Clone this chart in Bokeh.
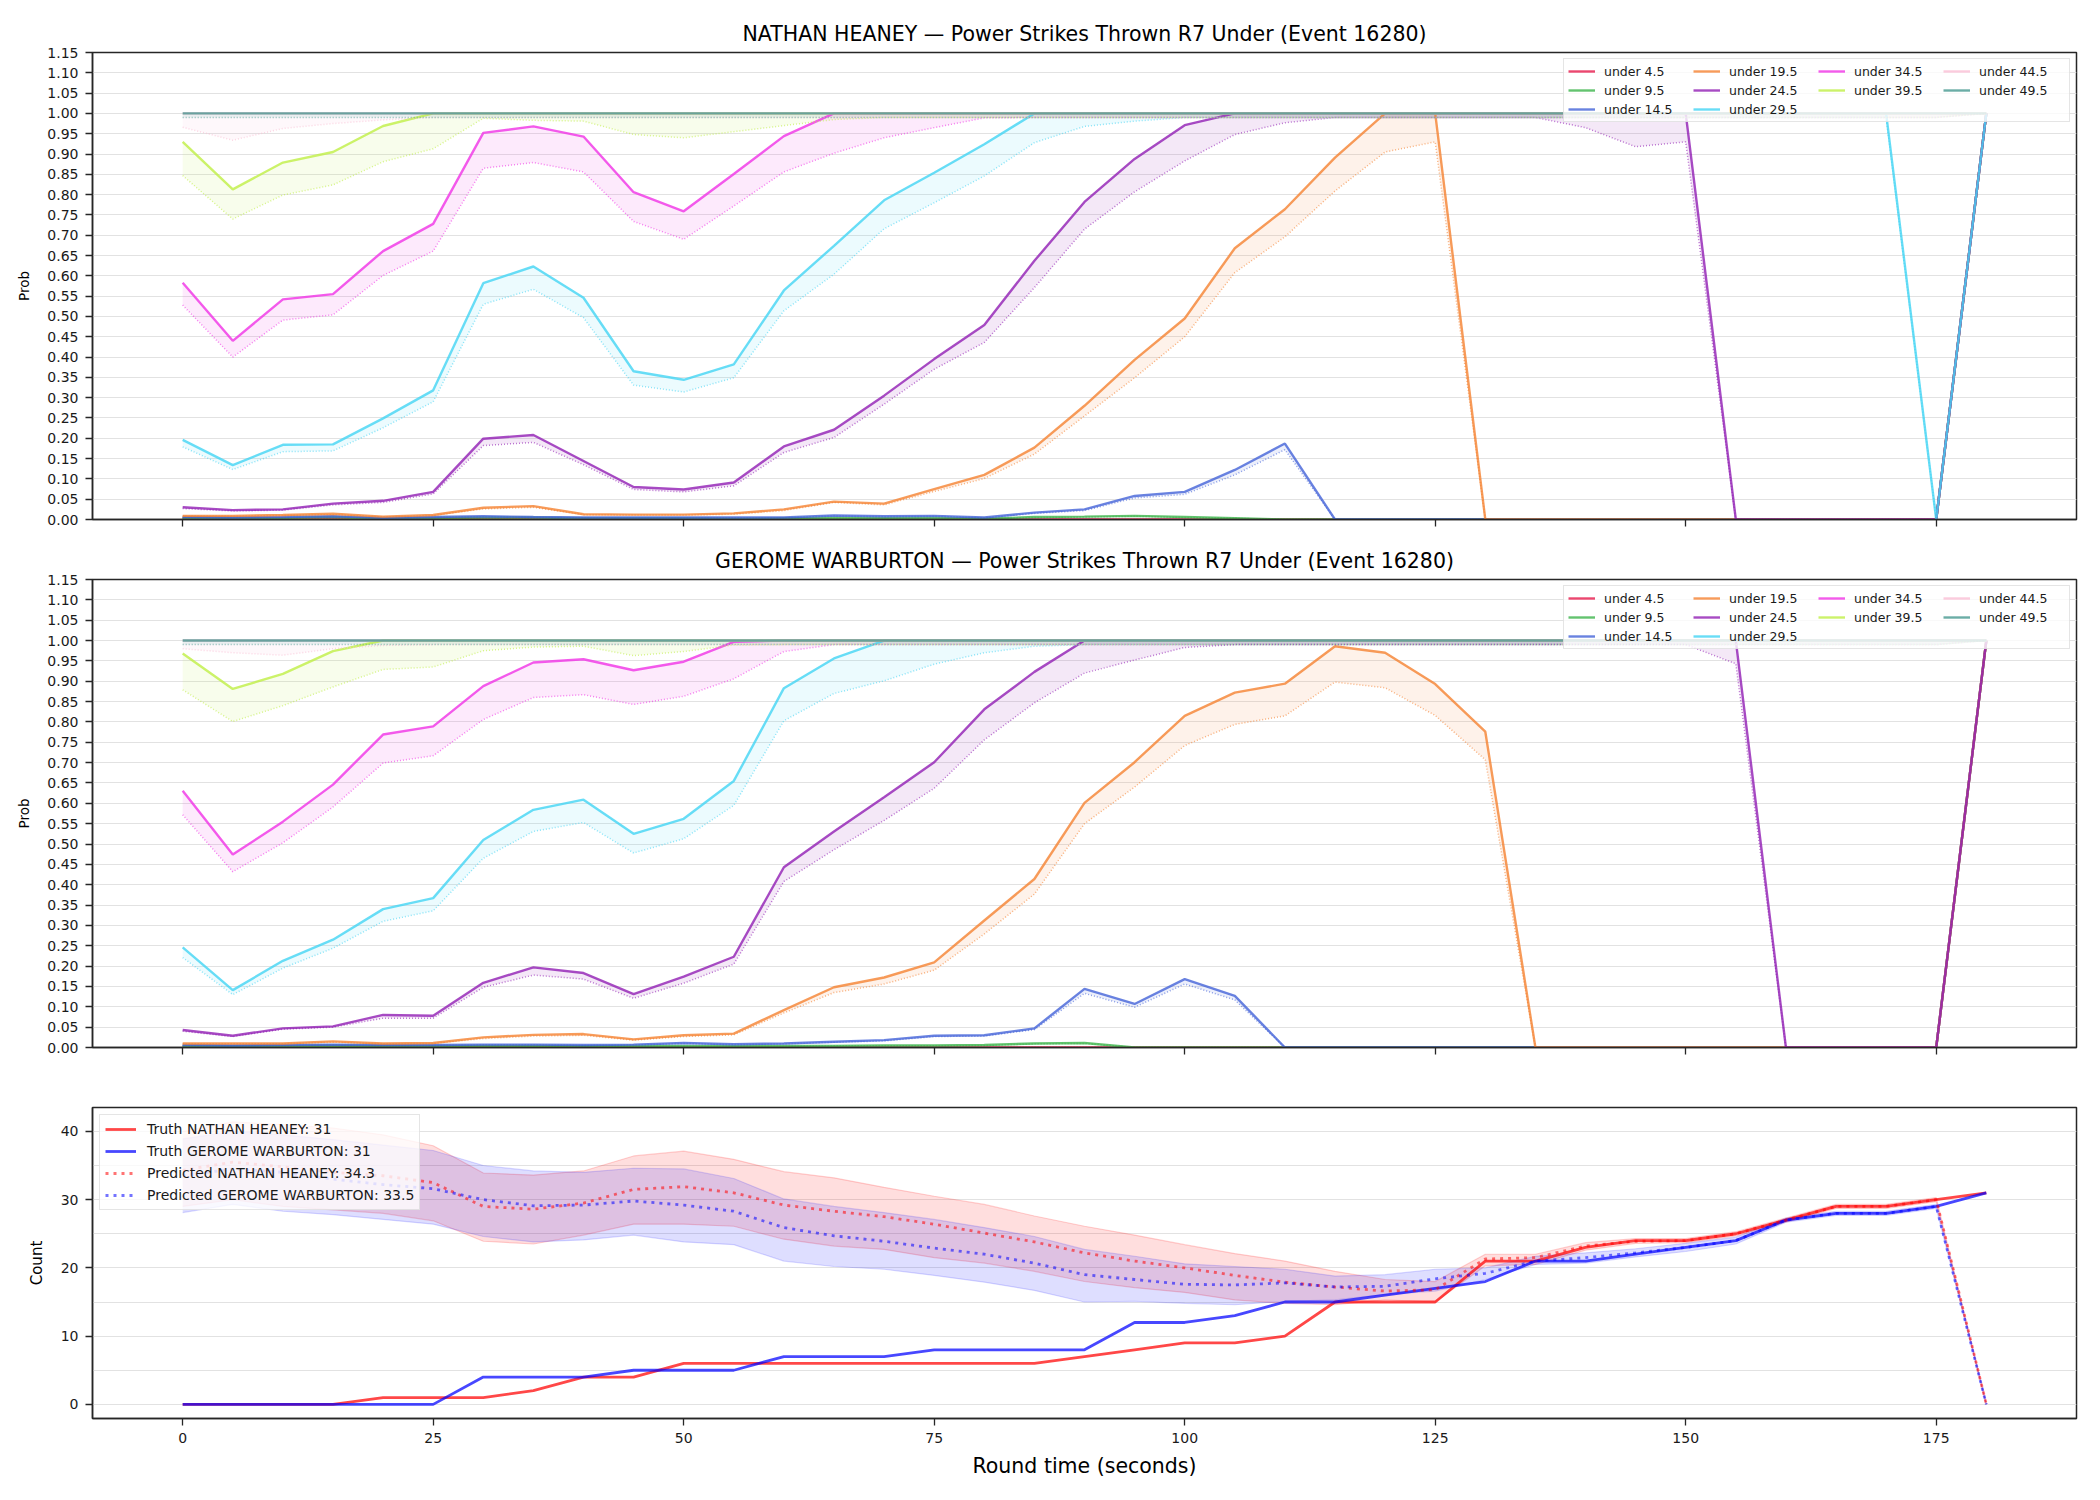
from bokeh.plotting import figure
from bokeh.layouts import column
from bokeh.models import (Range1d, FixedTicker, NumeralTickFormatter, Legend, LegendItem,
                          CustomJSTickFormatter)
from bokeh.embed import file_html
from bokeh.resources import INLINE

FONT = "DejaVu Sans"

round_time = [0, 5, 10, 15, 20, 25, 30, 35, 40, 45,
              50, 55, 60, 65, 70, 75, 80, 85, 90, 95,
              100, 105, 110, 115, 120, 125, 130, 135, 140, 145,
              150, 155, 160, 165, 170, 175, 180]

threshold_labels = ["under 4.5", "under 9.5", "under 14.5", "under 19.5", "under 24.5",
                    "under 29.5", "under 34.5", "under 39.5", "under 44.5", "under 49.5"]
threshold_colors = ["#e6194b", "#3cb44b", "#4363d8", "#f58231", "#911eb4",
                    "#42d4f4", "#f032e6", "#bfef45", "#fabed4", "#469990"]

prob_ticks = [0.0, 0.05, 0.10, 0.15, 0.20, 0.25, 0.30, 0.35, 0.40, 0.45, 0.50, 0.55,
              0.60, 0.65, 0.70, 0.75, 0.80, 0.85, 0.90, 0.95, 1.00, 1.05, 1.10, 1.15]
time_ticks = [0, 25, 50, 75, 100, 125, 150, 175]
count_ticks = [0, 10, 20, 30, 40]
count_grid = [0, 5, 10, 15, 20, 25, 30, 35, 40]

# ---------------- NATHAN HEANEY : solid (model) / dotted (alt) ----------------
nh_u4_solid = [0.003, 0.002, 0.002, 0.003, 0.001, 0.002, 0.002, 0.002, 0.001, 0.001,
               0, 0, 0, 0, 0, 0, 0, 0, 0, 0,
               0, 0, 0, 0, 0, 0, 0, 0, 0, 0,
               0, 0, 0, 0, 0, 0, 1.0]
nh_u4_dotted = [0.002, 0.002, 0.002, 0.002, 0.001, 0.001, 0.002, 0.001, 0.001, 0.001,
                0, 0, 0, 0, 0, 0, 0, 0, 0, 0,
                0, 0, 0, 0, 0, 0, 0, 0, 0, 0,
                0, 0, 0, 0, 0, 0, 1.0]
nh_u9_solid = [0.004, 0.003, 0.004, 0.006, 0.002, 0.004, 0.005, 0.005, 0.003, 0.003,
               0.003, 0.002, 0.003, 0.004, 0.003, 0.004, 0.002, 0.006, 0.007, 0.009,
               0.006, 0.003, 0, 0, 0, 0, 0, 0, 0, 0,
               0, 0, 0, 0, 0, 0, 1.0]
nh_u9_dotted = [0.003, 0.003, 0.003, 0.005, 0.002, 0.003, 0.004, 0.004, 0.003, 0.002,
                0.002, 0.002, 0.002, 0.003, 0.003, 0.003, 0.002, 0.005, 0.006, 0.008,
                0.005, 0.003, 0, 0, 0, 0, 0, 0, 0, 0,
                0, 0, 0, 0, 0, 0, 1.0]
nh_u14_solid = [0.006, 0.005, 0.006, 0.008, 0.004, 0.006, 0.008, 0.006, 0.005, 0.005,
                0.005, 0.005, 0.005, 0.010, 0.008, 0.009, 0.005, 0.017, 0.025, 0.058,
                0.068, 0.122, 0.187, 0, 0, 0, 0, 0, 0, 0,
                0, 0, 0, 0, 0, 0, 1.0]
nh_u14_dotted = [0.005, 0.004, 0.005, 0.007, 0.003, 0.005, 0.007, 0.005, 0.004, 0.004,
                 0.004, 0.004, 0.004, 0.009, 0.007, 0.008, 0.004, 0.015, 0.022, 0.053,
                 0.062, 0.110, 0.172, 0, 0, 0, 0, 0, 0, 0,
                 0, 0, 0, 0, 0, 0, 1.0]
nh_u19_solid = [0.009, 0.009, 0.011, 0.014, 0.007, 0.011, 0.029, 0.033, 0.013, 0.012,
                0.012, 0.015, 0.025, 0.044, 0.039, 0.075, 0.110, 0.177, 0.280, 0.393,
                0.495, 0.668, 0.764, 0.891, 1.0, 1.0, 0, 0, 0, 0,
                0, 0, 0, 0, 0, 0, 1.0]
nh_u19_dotted = [0.008, 0.008, 0.010, 0.012, 0.006, 0.010, 0.026, 0.030, 0.012, 0.011,
                 0.011, 0.013, 0.022, 0.042, 0.036, 0.069, 0.101, 0.161, 0.255, 0.349,
                 0.450, 0.608, 0.696, 0.809, 0.905, 0.930, 0, 0, 0, 0,
                 0, 0, 0, 0, 0, 0, 1.0]
nh_u24_solid = [0.030, 0.023, 0.025, 0.039, 0.046, 0.068, 0.199, 0.208, 0.144, 0.080,
                0.074, 0.091, 0.180, 0.221, 0.305, 0.395, 0.479, 0.637, 0.782, 0.888,
                0.971, 1.0, 1.0, 1.0, 1.0, 1.0, 1.0, 1.0, 1.0, 1.0,
                1.0, 0, 0, 0, 0, 0, 1.0]
nh_u24_dotted = [0.027, 0.021, 0.023, 0.036, 0.042, 0.063, 0.182, 0.190, 0.135, 0.074,
                 0.068, 0.083, 0.165, 0.202, 0.284, 0.370, 0.436, 0.571, 0.715, 0.807,
                 0.883, 0.948, 0.977, 0.990, 0.990, 0.990, 0.990, 0.990, 0.965, 0.918,
                 0.930, 0, 0, 0, 0, 0, 1.0]
nh_u29_solid = [0.196, 0.134, 0.184, 0.185, 0.249, 0.318, 0.582, 0.623, 0.546, 0.365,
                0.344, 0.382, 0.564, 0.674, 0.786, 0.854, 0.924, 1.0, 1.0, 1.0,
                1.0, 1.0, 1.0, 1.0, 1.0, 1.0, 1.0, 1.0, 1.0, 1.0,
                1.0, 1.0, 1.0, 1.0, 1.0, 0, 1.0]
nh_u29_dotted = [0.179, 0.123, 0.167, 0.169, 0.226, 0.290, 0.530, 0.567, 0.497, 0.331,
                 0.314, 0.349, 0.514, 0.604, 0.716, 0.780, 0.846, 0.928, 0.968, 0.981,
                 0.99, 0.99, 0.99, 0.99, 0.99, 0.99, 0.99, 0.99, 0.99, 0.99,
                 0.99, 0.99, 0.99, 0.99, 0.99, 0, 1.0]
nh_u34_solid = [0.583, 0.440, 0.542, 0.555, 0.661, 0.728, 0.952, 0.968, 0.943, 0.806,
                0.759, 0.851, 0.944, 1.0, 1.0, 1.0, 1.0, 1.0, 1.0, 1.0,
                1.0, 1.0, 1.0, 1.0, 1.0, 1.0, 1.0, 1.0, 1.0, 1.0,
                1.0, 1.0, 1.0, 1.0, 1.0, 1.0, 1.0]
nh_u34_dotted = [0.528, 0.400, 0.491, 0.504, 0.601, 0.661, 0.865, 0.879, 0.856, 0.734,
                 0.690, 0.772, 0.856, 0.902, 0.940, 0.965, 0.989, 0.99, 0.99, 0.99,
                 0.99, 0.99, 0.99, 0.99, 0.99, 0.99, 0.99, 0.99, 0.99, 0.99,
                 0.99, 0.99, 0.99, 0.99, 0.99, 0.99, 1.0]
nh_u39_solid = [0.930, 0.813, 0.879, 0.905, 0.969, 1.0, 1.0, 1.0, 1.0, 1.0,
                1.0, 1.0, 1.0, 1.0, 1.0, 1.0, 1.0, 1.0, 1.0, 1.0,
                1.0, 1.0, 1.0, 1.0, 1.0, 1.0, 1.0, 1.0, 1.0, 1.0,
                1.0, 1.0, 1.0, 1.0, 1.0, 1.0, 1.0]
nh_u39_dotted = [0.847, 0.740, 0.799, 0.824, 0.881, 0.913, 0.988, 0.983, 0.981, 0.948,
                 0.940, 0.955, 0.970, 0.985, 0.99, 0.99, 0.99, 0.99, 0.99, 0.99,
                 0.99, 0.99, 0.99, 0.99, 0.99, 0.99, 0.99, 0.99, 0.99, 0.99,
                 0.99, 0.99, 0.99, 0.99, 0.99, 0.99, 1.0]
nh_u44_solid = [1.0, 1.0, 1.0, 1.0, 1.0, 1.0, 1.0, 1.0, 1.0, 1.0,
                1.0, 1.0, 1.0, 1.0, 1.0, 1.0, 1.0, 1.0, 1.0, 1.0,
                1.0, 1.0, 1.0, 1.0, 1.0, 1.0, 1.0, 1.0, 1.0, 1.0,
                1.0, 1.0, 1.0, 1.0, 1.0, 1.0, 1.0]
nh_u44_dotted = [0.966, 0.934, 0.963, 0.975, 0.984, 0.99, 0.99, 0.99, 0.99, 0.99,
                 0.99, 0.99, 0.99, 0.99, 0.99, 0.99, 0.99, 0.99, 0.99, 0.99,
                 0.99, 0.99, 0.99, 0.99, 0.99, 0.99, 0.99, 0.99, 0.99, 0.99,
                 0.99, 0.99, 0.99, 0.99, 0.99, 0.99, 1.0]
nh_u49_solid = [1.0, 1.0, 1.0, 1.0, 1.0, 1.0, 1.0, 1.0, 1.0, 1.0,
                1.0, 1.0, 1.0, 1.0, 1.0, 1.0, 1.0, 1.0, 1.0, 1.0,
                1.0, 1.0, 1.0, 1.0, 1.0, 1.0, 1.0, 1.0, 1.0, 1.0,
                1.0, 1.0, 1.0, 1.0, 1.0, 1.0, 1.0]
nh_u49_dotted = [0.99, 0.99, 0.99, 0.99, 0.99, 0.99, 0.99, 0.99, 0.99, 0.99,
                 0.99, 0.99, 0.99, 0.99, 0.99, 0.99, 0.99, 0.99, 0.99, 0.99,
                 0.99, 0.99, 0.99, 0.99, 0.99, 0.99, 0.99, 0.99, 0.99, 0.99,
                 0.99, 0.99, 0.99, 0.99, 0.99, 0.99, 1.0]

# ---------------- GEROME WARBURTON ----------------
gw_u4_solid = [0.002, 0.002, 0.002, 0.002, 0.002, 0.001, 0.002, 0.002, 0.001, 0,
               0, 0, 0, 0, 0, 0, 0, 0, 0, 0,
               0, 0, 0, 0, 0, 0, 0, 0, 0, 0,
               0, 0, 0, 0, 0, 0, 1.0]
gw_u4_dotted = [0.002, 0.001, 0.002, 0.002, 0.001, 0.001, 0.001, 0.002, 0.001, 0,
                0, 0, 0, 0, 0, 0, 0, 0, 0, 0,
                0, 0, 0, 0, 0, 0, 0, 0, 0, 0,
                0, 0, 0, 0, 0, 0, 1.0]
gw_u9_solid = [0.004, 0.003, 0.004, 0.005, 0.004, 0.004, 0.004, 0.004, 0.003, 0.004,
               0.004, 0.003, 0.004, 0.004, 0.005, 0.005, 0.006, 0.010, 0.011, 0,
               0, 0, 0, 0, 0, 0, 0, 0, 0, 0,
               0, 0, 0, 0, 0, 0, 1.0]
gw_u9_dotted = [0.003, 0.003, 0.003, 0.004, 0.003, 0.003, 0.004, 0.003, 0.003, 0.003,
                0.003, 0.003, 0.003, 0.004, 0.004, 0.004, 0.005, 0.009, 0.010, 0,
                0, 0, 0, 0, 0, 0, 0, 0, 0, 0,
                0, 0, 0, 0, 0, 0, 1.0]
gw_u14_solid = [0.006, 0.005, 0.006, 0.007, 0.006, 0.006, 0.007, 0.007, 0.006, 0.007,
                0.011, 0.008, 0.010, 0.014, 0.018, 0.029, 0.030, 0.047, 0.144, 0.107,
                0.168, 0.127, 0, 0, 0, 0, 0, 0, 0, 0,
                0, 0, 0, 0, 0, 0, 1.0]
gw_u14_dotted = [0.005, 0.004, 0.005, 0.006, 0.005, 0.005, 0.006, 0.006, 0.005, 0.006,
                 0.010, 0.007, 0.009, 0.013, 0.016, 0.027, 0.028, 0.044, 0.133, 0.099,
                 0.156, 0.117, 0, 0, 0, 0, 0, 0, 0, 0,
                 0, 0, 0, 0, 0, 0, 1.0]
gw_u19_solid = [0.010, 0.010, 0.010, 0.015, 0.010, 0.011, 0.025, 0.031, 0.033, 0.020,
                0.030, 0.034, 0.092, 0.148, 0.172, 0.209, 0.312, 0.414, 0.601, 0.701,
                0.815, 0.872, 0.894, 0.986, 0.970, 0.893, 0.776, 0, 0, 0,
                0, 0, 0, 0, 0, 0, 1.0]
gw_u19_dotted = [0.009, 0.009, 0.009, 0.013, 0.009, 0.010, 0.022, 0.028, 0.030, 0.018,
                 0.027, 0.031, 0.085, 0.135, 0.156, 0.190, 0.279, 0.377, 0.550, 0.640,
                 0.742, 0.794, 0.815, 0.898, 0.884, 0.816, 0.707, 0, 0, 0,
                 0, 0, 0, 0, 0, 0, 1.0]
gw_u24_solid = [0.043, 0.029, 0.047, 0.052, 0.080, 0.078, 0.159, 0.197, 0.183, 0.131,
                0.174, 0.223, 0.443, 0.531, 0.615, 0.701, 0.831, 0.923, 1.0, 1.0,
                1.0, 1.0, 1.0, 1.0, 1.0, 1.0, 1.0, 1.0, 1.0, 1.0,
                1.0, 1.0, 0, 0, 0, 0, 1.0]
gw_u24_dotted = [0.040, 0.027, 0.045, 0.050, 0.072, 0.072, 0.148, 0.178, 0.168, 0.121,
                 0.158, 0.205, 0.408, 0.486, 0.558, 0.637, 0.756, 0.847, 0.920, 0.952,
                 0.983, 0.99, 0.99, 0.99, 0.99, 0.99, 0.99, 0.99, 0.99, 0.99,
                 0.99, 0.943, 0, 0, 0, 0, 1.0]
gw_u29_solid = [0.246, 0.141, 0.213, 0.265, 0.340, 0.367, 0.510, 0.584, 0.609, 0.525,
                0.562, 0.655, 0.883, 0.956, 1.0, 1.0, 1.0, 1.0, 1.0, 1.0,
                1.0, 1.0, 1.0, 1.0, 1.0, 1.0, 1.0, 1.0, 1.0, 1.0,
                1.0, 1.0, 1.0, 1.0, 1.0, 1.0, 1.0]
gw_u29_dotted = [0.221, 0.130, 0.195, 0.244, 0.310, 0.336, 0.465, 0.531, 0.553, 0.478,
                 0.513, 0.595, 0.803, 0.870, 0.901, 0.942, 0.970, 0.986, 0.99, 0.99,
                 0.99, 0.99, 0.99, 0.99, 0.99, 0.99, 0.99, 0.99, 0.99, 0.99,
                 0.99, 0.99, 0.99, 0.99, 0.99, 0.99, 1.0]
gw_u34_solid = [0.631, 0.474, 0.555, 0.646, 0.769, 0.789, 0.888, 0.946, 0.954, 0.927,
                0.948, 0.997, 1.0, 1.0, 1.0, 1.0, 1.0, 1.0, 1.0, 1.0,
                1.0, 1.0, 1.0, 1.0, 1.0, 1.0, 1.0, 1.0, 1.0, 1.0,
                1.0, 1.0, 1.0, 1.0, 1.0, 1.0, 1.0]
gw_u34_dotted = [0.572, 0.432, 0.503, 0.591, 0.699, 0.717, 0.806, 0.860, 0.867, 0.843,
                 0.863, 0.906, 0.973, 0.99, 0.99, 0.99, 0.99, 0.99, 0.99, 0.99,
                 0.99, 0.99, 0.99, 0.99, 0.99, 0.99, 0.99, 0.99, 0.99, 0.99,
                 0.99, 0.99, 0.99, 0.99, 0.99, 0.99, 1.0]
gw_u39_solid = [0.968, 0.881, 0.918, 0.974, 1.0, 1.0, 1.0, 1.0, 1.0, 1.0,
                1.0, 1.0, 1.0, 1.0, 1.0, 1.0, 1.0, 1.0, 1.0, 1.0,
                1.0, 1.0, 1.0, 1.0, 1.0, 1.0, 1.0, 1.0, 1.0, 1.0,
                1.0, 1.0, 1.0, 1.0, 1.0, 1.0, 1.0]
gw_u39_dotted = [0.879, 0.801, 0.840, 0.886, 0.929, 0.935, 0.975, 0.984, 0.986, 0.963,
                 0.973, 0.989, 0.99, 0.99, 0.99, 0.99, 0.99, 0.99, 0.99, 0.99,
                 0.99, 0.99, 0.99, 0.99, 0.99, 0.99, 0.99, 0.99, 0.99, 0.99,
                 0.99, 0.99, 0.99, 0.99, 0.99, 0.99, 1.0]
gw_u44_solid = [1.0, 1.0, 1.0, 1.0, 1.0, 1.0, 1.0, 1.0, 1.0, 1.0,
                1.0, 1.0, 1.0, 1.0, 1.0, 1.0, 1.0, 1.0, 1.0, 1.0,
                1.0, 1.0, 1.0, 1.0, 1.0, 1.0, 1.0, 1.0, 1.0, 1.0,
                1.0, 1.0, 1.0, 1.0, 1.0, 1.0, 1.0]
gw_u44_dotted = [0.980, 0.970, 0.964, 0.980, 0.988, 0.99, 0.99, 0.99, 0.99, 0.99,
                 0.99, 0.99, 0.99, 0.99, 0.99, 0.99, 0.99, 0.99, 0.99, 0.99,
                 0.99, 0.99, 0.99, 0.99, 0.99, 0.99, 0.99, 0.99, 0.99, 0.99,
                 0.99, 0.99, 0.99, 0.99, 0.99, 0.99, 1.0]
gw_u49_solid = [1.0, 1.0, 1.0, 1.0, 1.0, 1.0, 1.0, 1.0, 1.0, 1.0,
                1.0, 1.0, 1.0, 1.0, 1.0, 1.0, 1.0, 1.0, 1.0, 1.0,
                1.0, 1.0, 1.0, 1.0, 1.0, 1.0, 1.0, 1.0, 1.0, 1.0,
                1.0, 1.0, 1.0, 1.0, 1.0, 1.0, 1.0]
gw_u49_dotted = [0.99, 0.99, 0.99, 0.99, 0.99, 0.99, 0.99, 0.99, 0.99, 0.99,
                 0.99, 0.99, 0.99, 0.99, 0.99, 0.99, 0.99, 0.99, 0.99, 0.99,
                 0.99, 0.99, 0.99, 0.99, 0.99, 0.99, 0.99, 0.99, 0.99, 0.99,
                 0.99, 0.99, 0.99, 0.99, 0.99, 0.99, 1.0]

# ---------------- Counts ----------------
nh_truth = [0, 0, 0, 0, 1, 1, 1, 2, 4, 4,
            6, 6, 6, 6, 6, 6, 6, 6, 7, 8,
            9, 9, 10, 15, 15, 15, 21, 21, 23, 24,
            24, 25, 27, 29, 29, 30, 31]
gw_truth = [0, 0, 0, 0, 0, 0, 4, 4, 4, 5,
            5, 5, 7, 7, 7, 8, 8, 8, 8, 12,
            12, 13, 15, 15, 16, 17, 18, 21, 21, 22,
            23, 24, 27, 28, 28, 29, 31]
nh_pred = [34.3, 35.5, 34.8, 34.0, 33.5, 32.5, 29.0, 28.6, 29.5, 31.5,
           31.9, 31.0, 29.2, 28.3, 27.5, 26.4, 25.1, 23.8, 22.2, 21.0,
           20.0, 18.9, 17.9, 17.2, 16.6, 16.8, 21.3, 21.5, 23.2, 23.9,
           24.0, 25.0, 27.0, 29.0, 29.0, 30.0, 0.0]
gw_pred = [33.5, 34.5, 34.0, 33.0, 32.2, 31.6, 30.0, 29.1, 29.2, 29.8,
           29.2, 28.3, 25.9, 24.7, 23.9, 22.9, 22.0, 20.7, 19.0, 18.3,
           17.6, 17.5, 17.8, 17.2, 17.3, 18.4, 19.2, 21.0, 21.5, 22.2,
           23.0, 24.0, 27.0, 28.0, 28.0, 29.0, 0.0]
nh_hi = [40.0, 41.4, 41.0, 40.5, 39.5, 37.9, 33.9, 33.6, 34.2, 36.4,
         37.1, 35.9, 34.1, 33.2, 31.8, 30.5, 29.3, 27.6, 26.1, 24.8,
         23.4, 22.1, 21.0, 19.5, 18.3, 18.0, 22.0, 22.0, 23.7, 24.3,
         24.3, 25.3, 27.3, 29.3, 29.3, 30.3, 0.0]
nh_lo = [29.0, 30.0, 29.0, 28.5, 28.0, 26.9, 23.9, 23.5, 24.8, 26.4,
         26.4, 26.1, 24.2, 23.2, 22.7, 21.5, 20.7, 19.5, 18.0, 17.1,
         16.4, 15.3, 14.8, 14.6, 15.3, 15.0, 20.3, 20.5, 22.6, 23.6,
         23.7, 24.7, 26.7, 28.7, 28.7, 29.7, 0.0]
gw_hi = [38.9, 40.0, 39.5, 38.8, 38.0, 37.2, 35.0, 34.2, 34.0, 34.6,
         34.5, 33.1, 30.1, 29.0, 28.1, 27.1, 25.9, 24.6, 22.7, 21.7,
         20.6, 20.2, 19.8, 18.8, 19.0, 19.8, 20.0, 21.7, 22.2, 22.8,
         23.6, 24.5, 27.3, 28.3, 28.3, 29.3, 0.0]
gw_lo = [28.1, 29.3, 28.3, 27.8, 27.1, 26.4, 24.6, 23.8, 24.1, 24.8,
         23.8, 23.4, 21.0, 20.2, 19.8, 18.9, 17.9, 16.7, 15.0, 15.1,
         14.8, 14.6, 15.1, 15.3, 16.1, 16.6, 18.3, 20.5, 20.7, 21.6,
         22.4, 23.5, 26.7, 27.7, 27.7, 28.7, 0.0]

nh_solids = [nh_u4_solid, nh_u9_solid, nh_u14_solid, nh_u19_solid, nh_u24_solid,
             nh_u29_solid, nh_u34_solid, nh_u39_solid, nh_u44_solid, nh_u49_solid]
nh_dotteds = [nh_u4_dotted, nh_u9_dotted, nh_u14_dotted, nh_u19_dotted, nh_u24_dotted,
              nh_u29_dotted, nh_u34_dotted, nh_u39_dotted, nh_u44_dotted, nh_u49_dotted]
gw_solids = [gw_u4_solid, gw_u9_solid, gw_u14_solid, gw_u19_solid, gw_u24_solid,
             gw_u29_solid, gw_u34_solid, gw_u39_solid, gw_u44_solid, gw_u49_solid]
gw_dotteds = [gw_u4_dotted, gw_u9_dotted, gw_u14_dotted, gw_u19_dotted, gw_u24_dotted,
              gw_u29_dotted, gw_u34_dotted, gw_u39_dotted, gw_u44_dotted, gw_u49_dotted]

n = len(round_time)
for arr in nh_solids + nh_dotteds + gw_solids + gw_dotteds + [nh_truth, gw_truth, nh_pred, gw_pred, nh_hi, nh_lo, gw_hi, gw_lo]:
    assert len(arr) == n, len(arr)

# legend fill order (row-major, 4 columns) that reproduces column layout 3/3/2/2
legend_order = [0, 3, 6, 8, 1, 4, 7, 9, 2, 5]

AX = "#262626"
GRID = "#e2e2e2"


def base_style(p):
    p.background_fill_color = "white"
    p.border_fill_color = "white"
    p.outline_line_color = AX
    p.outline_line_width = 1.5
    p.outline_line_alpha = 1.0
    p.xgrid.visible = False
    p.ygrid.grid_line_color = GRID
    p.ygrid.grid_line_width = 1
    for ax in (p.xaxis, p.yaxis):
        ax.axis_line_color = AX
        ax.axis_line_width = 1.5
        ax.major_tick_line_color = AX
        ax.major_tick_line_width = 1.3
        ax.major_tick_out = 7
        ax.major_tick_in = 0
        ax.minor_tick_line_color = None
        ax.major_label_text_font = FONT
        ax.major_label_text_font_size = "14px"
        ax.major_label_text_color = "#1a1a1a"
        ax.major_label_standoff = 7
        ax.axis_label_text_font = FONT
        ax.axis_label_text_font_style = "normal"
        ax.axis_label_text_color = "black"
    p.xaxis.ticker = FixedTicker(ticks=time_ticks)


def prob_figure(title, solids, dotteds, height, top, bottom):
    p = figure(width=2100, height=height,
               x_range=Range1d(-9, 189), y_range=Range1d(0, 1.15),
               output_backend="svg", toolbar_location=None,
               min_border_left=92, min_border_right=24,
               min_border_top=top, min_border_bottom=bottom)
    base_style(p)
    p.title.text = title
    p.title.align = "center"
    p.title.text_font = FONT
    p.title.text_font_size = "20.5px"
    p.title.text_font_style = "normal"
    p.title.text_color = "black"
    p.title.standoff = 13
    p.yaxis.ticker = FixedTicker(ticks=prob_ticks)
    p.yaxis.formatter = NumeralTickFormatter(format="0.00")
    p.ygrid.ticker = FixedTicker(ticks=prob_ticks)
    p.yaxis.axis_label = "Prob"
    p.yaxis.axis_label_text_font_size = "13.5px"
    p.yaxis.axis_label_standoff = 12
    p.xaxis.formatter = CustomJSTickFormatter(code="return ''")
    p.xaxis.major_label_standoff = 0
    p.xaxis.major_label_text_font_size = "9px"

    for c, lo, hi in zip(threshold_colors, dotteds, solids):
        p.varea(x=round_time, y1=lo, y2=hi, fill_color=c, fill_alpha=0.1)
    items = []
    for lab, c, s, d in zip(threshold_labels, threshold_colors, solids, dotteds):
        r = p.line(round_time, s, line_color=c, line_width=2.4, line_alpha=0.8)
        p.line(round_time, d, line_color=c, line_width=1.5, line_alpha=0.6,
               line_dash="1 2")
        items.append(LegendItem(label=lab, renderers=[r]))
    leg = Legend(items=[items[i] for i in legend_order], location="top_right",
                 orientation="horizontal", ncols=4,
                 label_text_font=FONT, label_text_font_size="12.5px",
                 label_text_color="#1a1a1a",
                 glyph_width=27, glyph_height=16, label_height=16, label_width=86,
                 label_standoff=9, spacing=3, padding=4, margin=6,
                 border_line_color="#cccccc", border_line_width=1.5,
                 background_fill_color="white", background_fill_alpha=0.8)
    p.add_layout(leg)
    return p


p1 = prob_figure("NATHAN HEANEY \u2014 Power Strikes Thrown R7 Under (Event 16280)",
                 nh_solids, nh_dotteds, height=539, top=52, bottom=20)
p2 = prob_figure("GEROME WARBURTON \u2014 Power Strikes Thrown R7 Under (Event 16280)",
                 gw_solids, gw_dotteds, height=532, top=40, bottom=24)

p3 = figure(width=2100, height=409,
            x_range=p1.x_range, y_range=Range1d(-2.07, 43.5),
            output_backend="svg", toolbar_location=None,
            min_border_left=92, min_border_right=24,
            min_border_top=36, min_border_bottom=62)
base_style(p3)
p3.yaxis.ticker = FixedTicker(ticks=count_ticks)
p3.ygrid.ticker = FixedTicker(ticks=count_grid)
p3.yaxis.axis_label = "Count"
p3.yaxis.axis_label_text_font_size = "15px"
p3.yaxis.axis_label_standoff = 12
p3.xaxis.axis_label = "Round time (seconds)"
p3.xaxis.axis_label_text_font_size = "20.5px"
p3.xaxis.axis_label_standoff = 8
p2.x_range = p1.x_range

p3.varea(x=round_time, y1=nh_lo, y2=nh_hi, fill_color="red", fill_alpha=0.13)
p3.line(round_time, nh_hi, line_color="red", line_alpha=0.18, line_width=1.2)
p3.line(round_time, nh_lo, line_color="red", line_alpha=0.18, line_width=1.2)
p3.varea(x=round_time, y1=gw_lo, y2=gw_hi, fill_color="blue", fill_alpha=0.13)
p3.line(round_time, gw_hi, line_color="blue", line_alpha=0.15, line_width=1.2)
p3.line(round_time, gw_lo, line_color="blue", line_alpha=0.15, line_width=1.2)

r_nt = p3.line(round_time, nh_truth, line_color="red", line_alpha=0.72, line_width=2.8)
r_gt = p3.line(round_time, gw_truth, line_color="blue", line_alpha=0.72, line_width=2.8)
r_np = p3.line(round_time, nh_pred, line_color="red", line_alpha=0.55, line_width=2.8,
               line_dash="3 5")
r_gp = p3.line(round_time, gw_pred, line_color="blue", line_alpha=0.55, line_width=2.8,
               line_dash="3 5")

leg3 = Legend(items=[LegendItem(label="Truth NATHAN HEANEY: 31", renderers=[r_nt]),
                     LegendItem(label="Truth GEROME WARBURTON: 31", renderers=[r_gt]),
                     LegendItem(label="Predicted NATHAN HEANEY: 34.3", renderers=[r_np]),
                     LegendItem(label="Predicted GEROME WARBURTON: 33.5", renderers=[r_gp])],
              location="top_left", orientation="vertical",
              label_text_font=FONT, label_text_font_size="14px", label_text_color="#1a1a1a",
              glyph_width=31, glyph_height=18, label_height=18, label_standoff=11,
              spacing=4, padding=5, margin=7,
              border_line_color="#cccccc", border_line_width=1.5,
              background_fill_color="white", background_fill_alpha=0.8)
p3.add_layout(leg3)

layout = column(p1, p2, p3, spacing=0)
open("out.html", "w").write(file_html(layout, INLINE))
